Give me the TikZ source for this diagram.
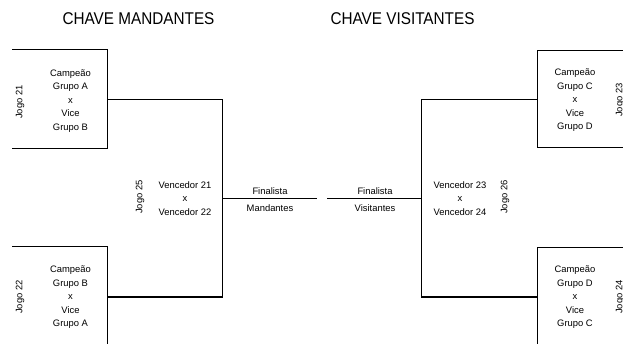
\documentclass[tikz,border=0pt]{standalone}
\usepackage{fontspec}
\setmainfont{Liberation Sans}
\begin{document}
\begin{tikzpicture}[x=1pt,y=-1pt,
  ln/.style={line width=1pt,black},
  txt/.style={font=\fontsize{9.4}{13.5}\selectfont,align=center,inner sep=0pt},
  jogo/.style={font=\fontsize{9.4}{11}\selectfont,rotate=90,inner sep=0pt},
  ttl/.style={font=\fontsize{17}{19}\selectfont,inner sep=0pt}]
\useasboundingbox (0,0) rectangle (623,344);
\clip (0,0) rectangle (623,344);
% titles
\node[ttl] (t1) at (138.5,19) {\scalebox{0.9}[1]{CHAVE MANDANTES}};
\node[ttl] (t2) at (402.5,19) {\scalebox{0.9}[1]{CHAVE VISITANTES}};
% coordinates
\coordinate (a1) at (12,50); \coordinate (a2) at (107,50);
\coordinate (a3) at (107,149); \coordinate (a4) at (12,149);
\coordinate (am) at (107,100); \coordinate (c1) at (222,100);
\coordinate (b1) at (12,247); \coordinate (b2) at (107,247);
\coordinate (b3) at (107,344); \coordinate (bm) at (107,297);
\coordinate (c2) at (222,297); \coordinate (cm) at (222,199);
\coordinate (f1) at (317,199); \coordinate (f2) at (327,199);
\coordinate (dm) at (421,199); \coordinate (d1) at (421,100);
\coordinate (d2) at (421,297);
\coordinate (e1) at (623,51); \coordinate (e2) at (537,51);
\coordinate (e3) at (537,148); \coordinate (e4) at (623,148);
\coordinate (em) at (537,100);
\coordinate (g1) at (623,248); \coordinate (g2) at (537,248);
\coordinate (g3) at (537,344); \coordinate (gm) at (537,297);
% lines
\draw[ln] (a1) -- (a2) -- (a3) -- (a4);
\draw[ln] (am) -- (c1) -- (c2) -- (bm);
\draw[ln] (b1) -- (b2) -- (b3);
\draw[ln] (cm) -- (f1);
\draw[ln] (f2) -- (dm);
\draw[ln] (em) -- (d1) -- (d2) -- (gm);
\draw[ln] (e1) -- (e2) -- (e3) -- (e4);
\draw[ln] (g1) -- (g2) -- (g3);
% texts
\node[txt] (n21) at (70.5,101) {Campeão\\Grupo A\\x\\Vice\\Grupo B};
\node[jogo] (j21) at (20,102) {Jogo 21};
\node[txt] (n22) at (70.5,297.5) {Campeão\\Grupo B\\x\\Vice\\Grupo A};
\node[jogo] (j22) at (20,297) {Jogo 22};
\node[txt] (n25) at (185,198.5) {Vencedor 21\\x\\Vencedor 22};
\node[jogo] (j25) at (140,197) {Jogo 25};
\node[txt] (fm1) at (270,191) {Finalista};
\node[txt] (fm2) at (270,208) {Mandantes};
\node[txt] (fv1) at (375,191) {Finalista};
\node[txt] (fv2) at (375,208) {Visitantes};
\node[txt] (n26) at (460,198.5) {Vencedor 23\\x\\Vencedor 24};
\node[jogo] (j26) at (505,197) {Jogo 26};
\node[txt] (n23) at (575,100.5) {Campeão\\Grupo C\\x\\Vice\\Grupo D};
\node[jogo] (j23) at (620,100) {Jogo 23};
\node[txt] (n24) at (575,297.5) {Campeão\\Grupo D\\x\\Vice\\Grupo C};
\node[jogo] (j24) at (620,297) {Jogo 24};
\end{tikzpicture}
\end{document}
